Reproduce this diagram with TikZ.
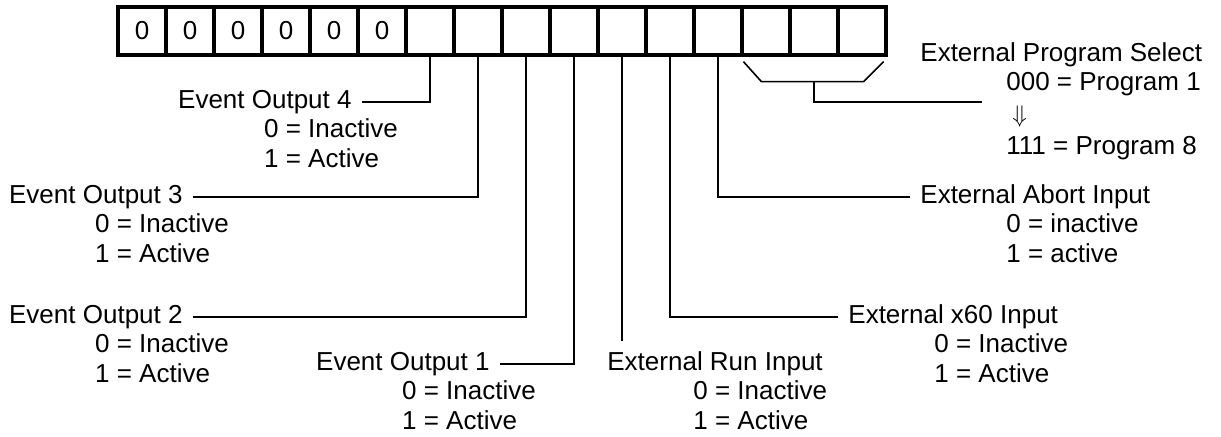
\documentclass[tikz,border=0pt]{standalone}
\usepackage{fontspec}
\setmainfont{Liberation Sans}
\usetikzlibrary{positioning}

\begin{document}
\begin{tikzpicture}[x=0.5pt,y=-0.5pt,
  cell/.style={draw,line width=1.6pt,minimum width=24pt,minimum height=24pt,
    inner sep=0pt,font=\fontsize{13}{15}\selectfont},
  lead/.style={line width=0.8pt},
  lbl/.style={inner xsep=5pt,inner ysep=2pt,font=\fontsize{13}{15}\selectfont},
  states/.style={lbl,anchor=north west,align=left}]
  \useasboundingbox (0,0) rectangle (1221,436);
  % Register cells
  \foreach \i in {0,...,15}
    \node[cell] (c\i) at (142+48*\i,31) {\ifnum\i<6 0\fi};
  % Event outputs
  \node[lbl,anchor=east] (eo4) at (362,102) {Event Output 4};
  \node[states] (eo4s) at ([xshift=43pt,yshift=2pt]eo4.south west) {0 = Inactive\\1 = Active};
  \node[lbl,anchor=east] (eo3) at (193,197) {Event Output 3};
  \node[states] (eo3s) at ([xshift=43pt,yshift=2pt]eo3.south west) {0 = Inactive\\1 = Active};
  \node[lbl,anchor=east] (eo2) at (193,317) {Event Output 2};
  \node[states] (eo2s) at ([xshift=43pt,yshift=2pt]eo2.south west) {0 = Inactive\\1 = Active};
  \node[lbl,anchor=east] (eo1) at (500,364) {Event Output 1};
  \node[states] (eo1s) at ([xshift=43pt,yshift=2pt]eo1.south west) {0 = Inactive\\1 = Active};
  \draw[lead] (c6.south) |- (eo4.east);
  \draw[lead] (c7.south) |- (eo3.east);
  \draw[lead] (c8.south) |- (eo2.east);
  \draw[lead] (c9.south) |- (eo1.east);
  % External inputs
  \node[lbl,anchor=west] (run) at (597,364) {External Run Input};
  \node[states] (runs) at ([xshift=43pt,yshift=2pt]run.south west) {0 = Inactive\\1 = Active};
  \node[lbl,anchor=west] (x60) at (838,317) {External x60 Input};
  \node[states] (x60s) at ([xshift=43pt,yshift=2pt]x60.south west) {0 = Inactive\\1 = Active};
  \node[lbl,anchor=west] (abort) at (910,197) {External Abort Input};
  \node[states] (aborts) at ([xshift=43pt,yshift=2pt]abort.south west) {0 = inactive\\1 = active};
  \draw[lead,shorten >=3pt] (c10.south) -- (c10.south |- run.north);
  \draw[lead] (c11.south) |- (x60.west);
  \draw[lead] (c12.south) |- (abort.west);
  % Program select (last three cells)
  \node[lbl,anchor=west] (eps) at (910,55) {External Program Select};
  \node[states] (epss) at ([xshift=43pt,yshift=2pt]eps.south west)
    {000 = Program 1\\[1pt]\hspace*{3pt}$\Downarrow$\\[1pt]111 = Program 8};
  \coordinate (bl) at ([xshift=1.5pt,yshift=-2.5pt]c13.south west);
  \coordinate (br) at ([xshift=-2pt,yshift=-2.5pt]c15.south east);
  \coordinate (bk) at ([yshift=-12.5pt]c14.south);
  \coordinate (pend) at (982,102);
  \draw[lead] (bl) -- ([xshift=9pt]bl |- bk) -- ([xshift=-10pt]br |- bk) -- (br);
  \draw[lead] (bk) |- (pend);
\end{tikzpicture}
\end{document}
